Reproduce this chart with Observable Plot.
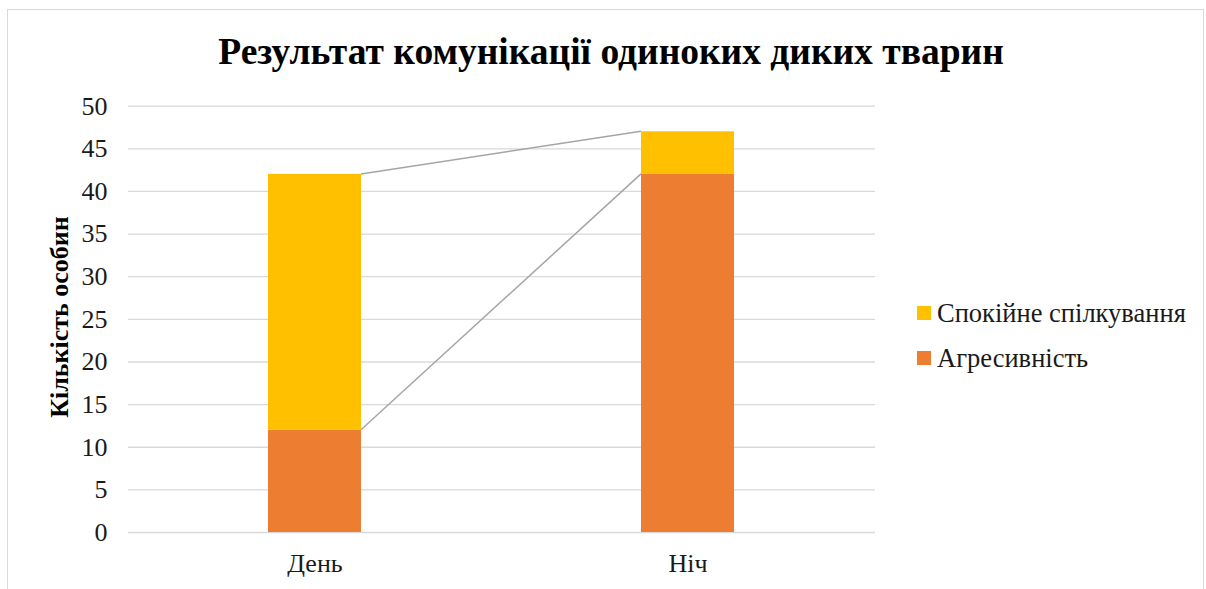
<!DOCTYPE html>
<html>
<head>
<meta charset="utf-8">
<script src="https://cdn.jsdelivr.net/npm/d3@7"></script>
<script src="https://cdn.jsdelivr.net/npm/@observablehq/plot@0.6"></script>
<style>
  html, body { margin: 0; padding: 0; background: #fff; }
  #wrap { position: relative; width: 1206px; height: 589px; overflow: hidden; font-family: "Liberation Serif", "Times New Roman", serif; }
  #frame { position: absolute; left: 7px; top: 9px; width: 1197px; height: 620px; border: 1.5px solid #D9D9D9; box-sizing: border-box; }
  #title { position: absolute; left: 0; width: 1222px; top: 30px; text-align: center; font-weight: bold; font-size: 37.5px; color: #000; white-space: nowrap; }
  #ylabel { position: absolute; left: 60px; top: 317px; transform: translate(-50%, -50%) rotate(-90deg); font-weight: bold; font-size: 26px; color: #000; white-space: nowrap; }
  #chart { position: absolute; left: 0; top: 0; }
  #legend { position: absolute; left: 917px; top: 300px; font-size: 26.5px; color: #1a1a1a; font-family: "Liberation Serif", "Times New Roman", serif; }
  .item { display: flex; align-items: center; height: 26px; margin-bottom: 19px; white-space: nowrap; }
  .sw { width: 14px; height: 14px; margin-right: 6px; }
</style>
</head>
<body>
<div id="wrap">
  <div id="frame"></div>
  <div id="chart"></div>
  <div id="title"></div>
  <div id="ylabel"></div>
  <div id="legend"></div>
</div>
<script>
const titleText = "Результат комунікації одиноких диких тварин";
const yLabelText = "Кількість особин";
const categories = ["День", "Ніч"];
const seriesNames = ["Агресивність", "Спокійне спілкування"];
const aggression = [12, 42];
const calm = [30, 5];
const seriesColors = ["#ED7D31", "#FFC000"];
const yTicks = [0, 5, 10, 15, 20, 25, 30, 35, 40, 45, 50];
const legendOrder = ["Спокійне спілкування", "Агресивність"];

const data = categories.flatMap((c, i) => [
  {cat: c, series: seriesNames[0], value: aggression[i]},
  {cat: c, series: seriesNames[1], value: calm[i]}
]);

document.getElementById("title").textContent = titleText;
document.getElementById("ylabel").textContent = yLabelText;

// series lines connecting stacked segment tops between adjacent bars
const seriesLines = (index, scales) => {
  const x = scales.x, y = scales.y;
  const bw = typeof x.bandwidth === "function" ? x.bandwidth() : x.bandwidth;
  const g = d3.create("svg:g");
  const levels = [aggression, aggression.map((a, i) => a + calm[i])];
  for (const lv of levels) {
    for (let i = 0; i < categories.length - 1; i++) {
      g.append("line")
        .attr("x1", x(categories[i]) + bw)
        .attr("y1", y(lv[i]))
        .attr("x2", x(categories[i + 1]))
        .attr("y2", y(lv[i + 1]))
        .attr("stroke", "#A5A5A5")
        .attr("stroke-width", 1.5);
    }
  }
  return g.node();
};

const chart = Plot.plot({
  width: 1206,
  height: 589,
  marginLeft: 128,
  marginRight: 331,
  marginTop: 105.7,
  marginBottom: 57,
  style: {fontFamily: "'Liberation Serif', 'Times New Roman', serif", fontSize: "26px", color: "#1a1a1a", background: "transparent", overflow: "visible"},
  x: {domain: categories, paddingInner: 0.75, paddingOuter: 0.375, label: null},
  y: {domain: [0, 50], label: null},
  color: {domain: seriesNames, range: seriesColors},
  marks: [
    Plot.ruleY(yTicks, {stroke: "#D9D9D9", strokeWidth: 1.3}),
    Plot.barY(data, {x: "cat", y: "value", fill: "series"}),
    seriesLines,
    Plot.axisY(yTicks, {tickSize: 0, tickPadding: 21, label: null, fontSize: 26}),
    Plot.axisX({tickSize: 0, tickPadding: 21, label: null, fontSize: 26})
  ]
});
document.getElementById("chart").appendChild(chart);

const legend = d3.select("#legend");
for (const name of legendOrder) {
  const it = legend.append("div").attr("class", "item");
  it.append("div").attr("class", "sw").style("background", seriesColors[seriesNames.indexOf(name)]);
  it.append("span").text(name);
}
</script>
</body>
</html>
